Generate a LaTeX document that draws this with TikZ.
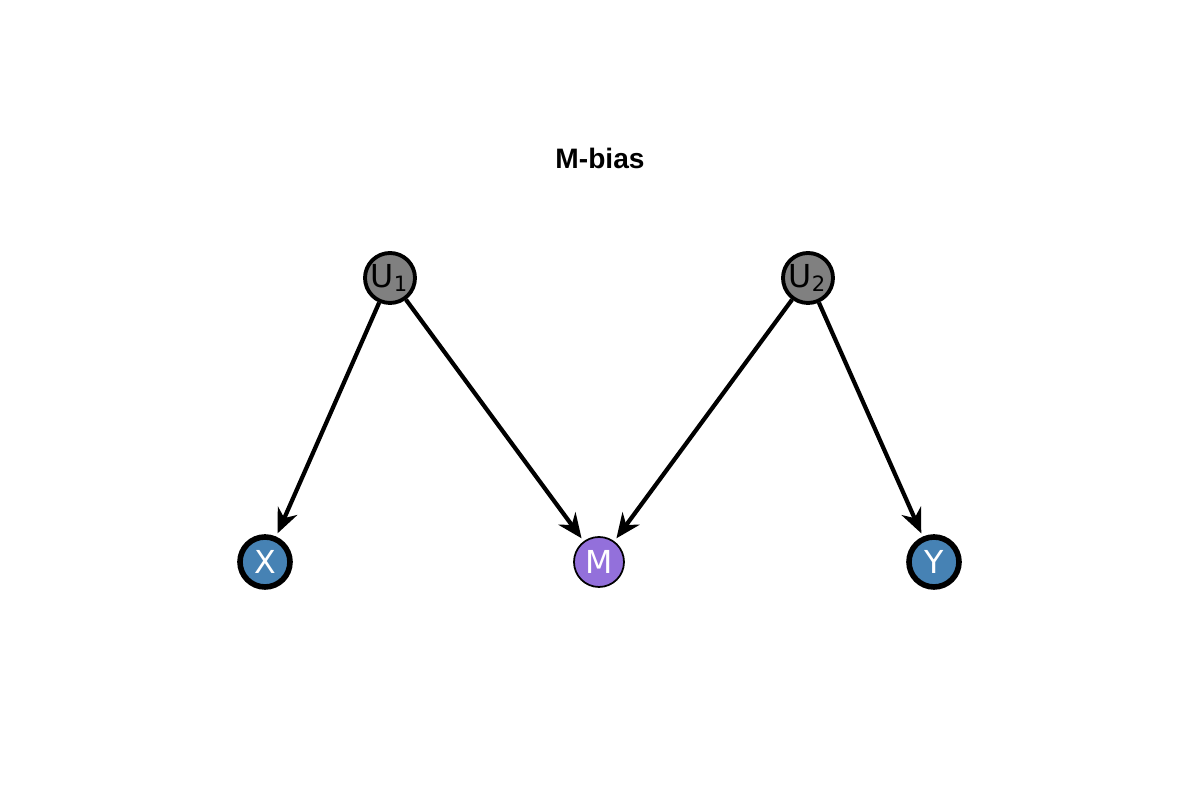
\documentclass[tikz,border=0pt]{standalone}
\usepackage{fontspec}
\setmainfont{DejaVu Sans}
\newfontfamily\titlefont{Liberation Sans}
\usetikzlibrary{arrows.meta}

\definecolor{steel}{HTML}{4682B4}
\definecolor{medpurple}{HTML}{9370DB}
\tikzset{
    var/.style={circle, draw=black, line width=1.6pt, minimum size=0.5cm, inner sep=0pt, font=\fontsize{9}{10}\selectfont},
    latent/.style={var, fill=gray, line width=1.1pt},
    exposure/.style={var, fill=steel, text=white},
    edge/.style={-{Stealth[length=7pt,width=6pt]}, line width=1.2pt, shorten >=1pt}
}

\begin{document}
\begin{tikzpicture}
    \useasboundingbox (0,0) rectangle (12,8);
    \node[font=\titlefont\bfseries\fontsize{8}{9}\selectfont] (title) at (6.0,6.42) {M-bias};
    % nodes
    \node[latent] (u1) at (3.90,5.22) {U\textsubscript{1}};
    \node[latent] (u2) at (8.08,5.22) {U\textsubscript{2}};
    \node[exposure] (x) at (2.65,2.38) {X};
    \node[var, fill=medpurple, text=white, line width=0.5pt] (m) at (5.99,2.38) {M};
    \node[exposure] (y) at (9.34,2.38) {Y};
    % edges
    \draw[edge] (u1) -- (x);
    \draw[edge] (u1) -- (m);
    \draw[edge] (u2) -- (m);
    \draw[edge] (u2) -- (y);
\end{tikzpicture}
\end{document}
